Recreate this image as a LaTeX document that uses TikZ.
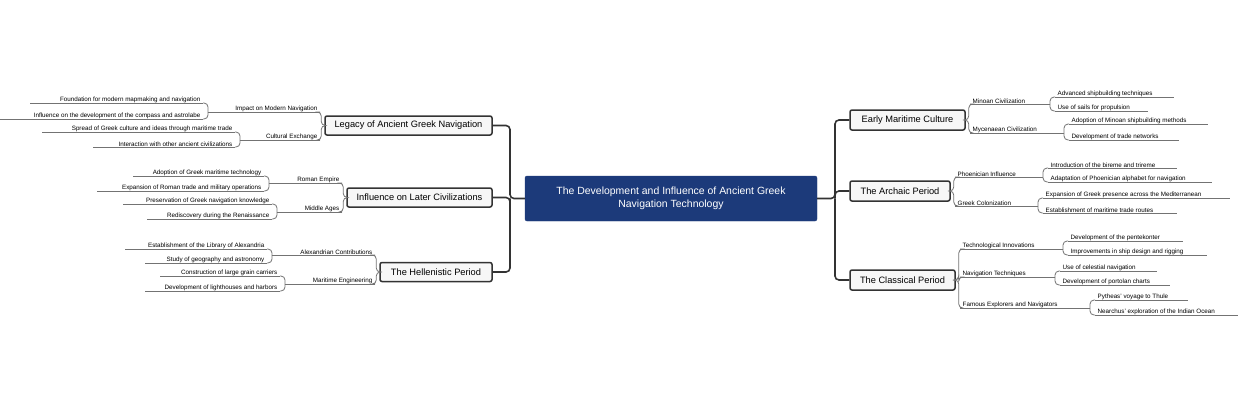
\documentclass[tikz,border=0pt]{standalone}
\usepackage{fontspec}
\setmainfont{Liberation Sans}
\begin{document}
\begin{tikzpicture}[x=1bp,y=-1bp,
  trunk/.style={draw=black!80,line width=1.6bp,rounded corners=4bp},
  sub/.style={draw=black!55,line width=0.8bp,rounded corners=4bp},
  uline/.style={draw=black!55,line width=0.8bp},
  branch/.style={draw=black!80,line width=1.5bp,fill=black!3,rounded corners=2bp,font=\fontsize{9.3}{11}\selectfont,inner sep=0pt},
  lbl/.style={inner sep=0.5bp,font=\fontsize{6.3}{7}\selectfont}]
\useasboundingbox (0,0) rectangle (1240,400);
\newcommand\lfR[5]{\coordinate (#1-a) at (#2,#4);\coordinate (#1-b) at (#3,#4);
  \draw[uline] (#1-a) -- (#1-b);\node[lbl,anchor=south west] (#1) at (#2+2,#4) {#5};}
\newcommand\lfL[5]{\coordinate (#1-a) at (#2,#4);\coordinate (#1-b) at (#3,#4);
  \draw[uline] (#1-a) -- (#1-b);\node[lbl,anchor=south east] (#1) at (#3-2,#4) {#5};}
% root
\node[fill={rgb,255:red,28;green,58;blue,122},draw={rgb,255:red,28;green,58;blue,122},rounded corners=2bp,minimum width=292bp,minimum height=45bp,text=white,align=center,font=\fontsize{10.5}{13}\selectfont] (root) at (671,198.5) {The Development and Influence of Ancient Greek\\Navigation Technology};
% branches
\node[branch,minimum width=115bp,minimum height=20bp] (E) at (907.5,120) {Early Maritime Culture};
\node[branch,minimum width=100bp,minimum height=20bp] (A) at (900,191) {The Archaic Period};
\node[branch,minimum width=105bp,minimum height=20bp] (C) at (902.5,280) {The Classical Period};
\node[branch,minimum width=167bp,minimum height=19bp] (L) at (408.5,125.5) {Legacy of Ancient Greek Navigation};
\node[branch,minimum width=145bp,minimum height=19bp] (I) at (419.5,197.5) {Influence on Later Civilizations};
\node[branch,minimum width=112bp,minimum height=19bp] (H) at (436,272) {The Hellenistic Period};
\draw[trunk] (root.east) -- (835,198.5) |- (E.west);
\draw[trunk] (835,198.5) |- (A.west);
\draw[trunk] (835,198.5) |- (C.west);
\draw[trunk] (root.west) -- (510,198.5) |- (L.east);
\draw[trunk] (510,198.5) |- (I.east);
\draw[trunk] (510,198.5) |- (H.east);
% right side
\lfR{min}{970}{1050}{104}{Minoan Civilization}
\lfR{myc}{970}{1064}{133}{Mycenaean Civilization}
\lfR{adv}{1055}{1174}{97}{Advanced shipbuilding techniques}
\lfR{sails}{1055}{1148}{111}{Use of sails for propulsion}
\lfR{adopm}{1069}{1208}{124}{Adoption of Minoan shipbuilding methods}
\lfR{devtr}{1069}{1179}{140}{Development of trade networks}
\lfR{phoe}{955}{1043}{177}{Phoenician Influence}
\lfR{gcol}{955}{1038}{206}{Greek Colonization}
\lfR{intro}{1048}{1177}{168}{Introduction of the bireme and trireme}
\lfR{adapt}{1048}{1212}{182}{Adaptation of Phoenician alphabet for navigation}
\lfR{expg}{1043}{1230}{198}{Expansion of Greek presence across the Mediterranean}
\lfR{estab}{1043}{1177}{213}{Establishment of maritime trade routes}
\lfR{tech}{960}{1063}{249}{Technological Innovations}
\lfR{nav}{960}{1055}{277}{Navigation Techniques}
\lfR{fam}{960}{1090}{308}{Famous Explorers and Navigators}
\lfR{pent}{1068}{1183}{241}{Development of the pentekonter}
\lfR{impr}{1068}{1207}{255}{Improvements in ship design and rigging}
\lfR{cel}{1060}{1157}{271}{Use of celestial navigation}
\lfR{port}{1060}{1170}{285}{Development of portolan charts}
\lfR{pyth}{1095}{1188}{300}{Pytheas' voyage to Thule}
\lfR{near}{1095}{1238}{315}{Nearchus' exploration of the Indian Ocean}
\foreach \p/\c in {E/min,E/myc,A/phoe,A/gcol,C/tech,C/nav,C/fam}{\draw[sub] (\p.east) -- ++(3,0) |- (\c-a);}
\foreach \p/\c in {min/adv,min/sails,myc/adopm,myc/devtr,phoe/intro,phoe/adapt,gcol/expg,gcol/estab,tech/pent,tech/impr,nav/cel,nav/port,fam/pyth,fam/near}{\draw[sub] (\p-b) |- (\c-a);}
% left side
\lfL{imp}{208}{320}{112}{Impact on Modern Navigation}
\lfL{cult}{240}{320}{140}{Cultural Exchange}
\lfL{found}{30}{203}{103}{Foundation for modern mapmaking and navigation}
\lfL{infl}{0}{203}{119}{Influence on the development of the compass and astrolabe}
\lfL{spread}{42}{235}{132}{Spread of Greek culture and ideas through maritime trade}
\lfL{inter}{93}{235}{147}{Interaction with other ancient civilizations}
\lfL{roman}{269}{342}{183}{Roman Empire}
\lfL{mid}{277}{342}{212}{Middle Ages}
\lfL{adopg}{133}{264}{176}{Adoption of Greek maritime technology}
\lfL{expr}{97}{264}{191}{Expansion of Roman trade and military operations}
\lfL{pres}{123}{272}{204}{Preservation of Greek navigation knowledge}
\lfL{redis}{147}{272}{219}{Rediscovery during the Renaissance}
\lfL{alex}{272}{375}{255}{Alexandrian Contributions}
\lfL{mar}{285}{375}{284}{Maritime Engineering}
\lfL{lib}{125}{267}{249}{Establishment of the Library of Alexandria}
\lfL{study}{145}{267}{263}{Study of geography and astronomy}
\lfL{constr}{160}{280}{276}{Construction of large grain carriers}
\lfL{light}{145}{280}{291}{Development of lighthouses and harbors}
\foreach \p/\c in {L/imp,L/cult,I/roman,I/mid,H/alex,H/mar}{\draw[sub] (\p.west) -- ++(-3,0) |- (\c-b);}
\foreach \p/\c in {imp/found,imp/infl,cult/spread,cult/inter,roman/adopg,roman/expr,mid/pres,mid/redis,alex/lib,alex/study,mar/constr,mar/light}{\draw[sub] (\p-a) |- (\c-b);}
\end{tikzpicture}
\end{document}
